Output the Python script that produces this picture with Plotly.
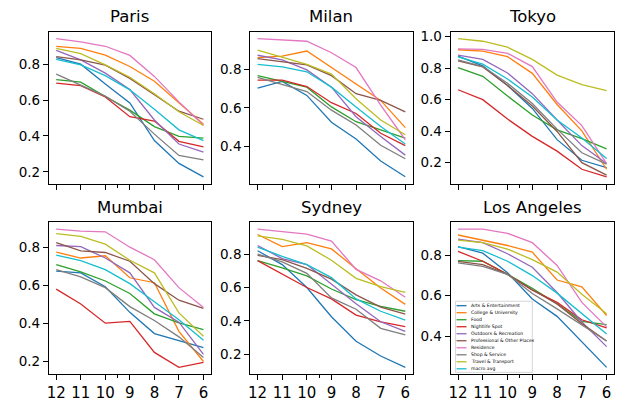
import plotly.graph_objects as go

months = [12, 11, 10, 9, 8, 7, 6]
tick_labels = ["12", "11", "10", "9", "8", "7", "6"]
categories = ["Arts & Entertainment", "College & University", "Food", "Nightlife Spot",
              "Outdoors & Recreation", "Professional & Other Places", "Residence",
              "Shop & Service", "Travel & Transport", "macro avg"]
colors = ["#1f77b4", "#ff7f0e", "#2ca02c", "#d62728", "#9467bd",
          "#8c564b", "#e377c2", "#7f7f7f", "#bcbd22", "#17becf"]
cities = ["Paris", "Milan", "Tokyo", "Mumbai", "Sydney", "Los Angeles"]

paris_values = [
    [0.837, 0.800, 0.690, 0.584, 0.374, 0.247, 0.172],
    [0.899, 0.888, 0.851, 0.787, 0.705, 0.586, 0.465],
    [0.714, 0.700, 0.620, 0.544, 0.452, 0.397, 0.388],
    [0.694, 0.681, 0.617, 0.507, 0.483, 0.370, 0.339],
    [0.877, 0.824, 0.750, 0.659, 0.489, 0.355, 0.310],
    [0.842, 0.824, 0.795, 0.721, 0.630, 0.538, 0.493],
    [0.943, 0.924, 0.900, 0.849, 0.732, 0.590, 0.460],
    [0.745, 0.685, 0.622, 0.538, 0.410, 0.291, 0.266],
    [0.888, 0.859, 0.796, 0.727, 0.635, 0.535, 0.458],
    [0.827, 0.796, 0.736, 0.657, 0.549, 0.434, 0.374],
]
milan_values = [
    [0.703, 0.738, 0.665, 0.525, 0.438, 0.323, 0.241],
    [0.862, 0.870, 0.896, 0.810, 0.725, 0.639, 0.497],
    [0.768, 0.737, 0.708, 0.605, 0.528, 0.485, 0.443],
    [0.745, 0.745, 0.711, 0.627, 0.571, 0.468, 0.403],
    [0.874, 0.850, 0.798, 0.708, 0.554, 0.451, 0.354],
    [0.856, 0.839, 0.824, 0.768, 0.674, 0.639, 0.579],
    [0.961, 0.954, 0.947, 0.887, 0.810, 0.614, 0.434],
    [0.759, 0.720, 0.685, 0.588, 0.511, 0.405, 0.335],
    [0.901, 0.862, 0.827, 0.776, 0.648, 0.537, 0.460],
    [0.827, 0.814, 0.788, 0.708, 0.605, 0.503, 0.412],
]
tokyo_values = [
    [0.877, 0.815, 0.690, 0.544, 0.346, 0.215, 0.169],
    [0.917, 0.908, 0.873, 0.767, 0.569, 0.402, 0.158],
    [0.804, 0.748, 0.623, 0.502, 0.408, 0.352, 0.288],
    [0.663, 0.600, 0.477, 0.367, 0.273, 0.158, 0.110],
    [0.883, 0.856, 0.769, 0.638, 0.471, 0.308, 0.194],
    [0.846, 0.808, 0.690, 0.560, 0.398, 0.200, 0.121],
    [0.923, 0.919, 0.894, 0.810, 0.585, 0.435, 0.194],
    [0.852, 0.810, 0.704, 0.575, 0.413, 0.263, 0.190],
    [0.988, 0.971, 0.933, 0.856, 0.756, 0.696, 0.658],
    [0.871, 0.825, 0.731, 0.617, 0.471, 0.356, 0.227],
]
mumbai_values = [
    [0.674, 0.665, 0.592, 0.457, 0.345, 0.310, 0.271],
    [0.774, 0.743, 0.755, 0.639, 0.613, 0.357, 0.198],
    [0.708, 0.670, 0.622, 0.556, 0.449, 0.402, 0.366],
    [0.579, 0.501, 0.400, 0.409, 0.246, 0.167, 0.194],
    [0.809, 0.803, 0.743, 0.665, 0.483, 0.405, 0.236],
    [0.824, 0.781, 0.772, 0.726, 0.608, 0.521, 0.478],
    [0.895, 0.885, 0.881, 0.800, 0.734, 0.587, 0.483],
    [0.682, 0.644, 0.587, 0.487, 0.414, 0.328, 0.219],
    [0.871, 0.857, 0.816, 0.731, 0.665, 0.454, 0.331],
    [0.758, 0.729, 0.682, 0.608, 0.513, 0.418, 0.310],
]
sydney_values = [
    [0.820, 0.737, 0.600, 0.425, 0.278, 0.190, 0.122],
    [0.917, 0.845, 0.868, 0.831, 0.712, 0.597, 0.499],
    [0.761, 0.718, 0.669, 0.591, 0.528, 0.487, 0.458],
    [0.761, 0.679, 0.600, 0.532, 0.435, 0.395, 0.366],
    [0.851, 0.773, 0.737, 0.620, 0.503, 0.395, 0.337],
    [0.792, 0.767, 0.714, 0.650, 0.556, 0.483, 0.440],
    [0.949, 0.933, 0.919, 0.878, 0.708, 0.640, 0.542],
    [0.800, 0.753, 0.685, 0.538, 0.470, 0.356, 0.317],
    [0.909, 0.888, 0.849, 0.763, 0.655, 0.605, 0.571],
    [0.841, 0.786, 0.737, 0.659, 0.532, 0.458, 0.405],
]
la_values = [
    [0.844, 0.811, 0.714, 0.584, 0.498, 0.372, 0.245],
    [0.901, 0.876, 0.849, 0.816, 0.678, 0.644, 0.502],
    [0.774, 0.771, 0.706, 0.637, 0.559, 0.473, 0.457],
    [0.820, 0.771, 0.706, 0.628, 0.567, 0.481, 0.441],
    [0.881, 0.863, 0.808, 0.741, 0.616, 0.470, 0.348],
    [0.770, 0.754, 0.706, 0.630, 0.559, 0.462, 0.376],
    [0.930, 0.930, 0.909, 0.863, 0.750, 0.567, 0.446],
    [0.763, 0.746, 0.706, 0.611, 0.535, 0.454, 0.376],
    [0.876, 0.863, 0.831, 0.779, 0.717, 0.608, 0.511],
    [0.841, 0.824, 0.771, 0.700, 0.613, 0.510, 0.410],
]
city_values = [paris_values, milan_values, tokyo_values,
               mumbai_values, sydney_values, la_values]

W, H = 630, 402
FONT = "DejaVu Sans"

def px_x(x):
    return x / W

def px_y(y):
    return 1 - y / H

col_px = [(47, 209.5), (249, 412), (450, 614)]
row_px = [(29, 183), (222, 376)]

fig = go.Figure()
layout = dict(
    width=W, height=H,
    margin=dict(l=0, r=0, t=0, b=0),
    paper_bgcolor="white", plot_bgcolor="white",
    showlegend=False,
    font=dict(family=FONT, color="black"),
)
annotations = []
shapes = []

for i, (city, vals) in enumerate(zip(cities, city_values)):
    r, c = divmod(i, 3)
    idx = i + 1
    xa = "x" if idx == 1 else f"x{idx}"
    ya = "y" if idx == 1 else f"y{idx}"
    for cat, col, v in zip(categories, colors, vals):
        fig.add_trace(go.Scatter(x=months, y=v, mode="lines", name=cat,
                                 line=dict(color=col, width=1.3),
                                 xaxis=xa, yaxis=ya, showlegend=False))
    flat = [a for row in vals for a in row]
    lo, hi = min(flat), max(flat)
    span = hi - lo
    yr = [lo - 0.05 * span, hi + 0.05 * span]
    x0, x1 = col_px[c]
    y0, y1 = row_px[r]
    xkey = "xaxis" if idx == 1 else f"xaxis{idx}"
    ykey = "yaxis" if idx == 1 else f"yaxis{idx}"
    layout[xkey] = dict(
        domain=[px_x(x0), px_x(x1)], anchor=ya,
        range=[12.3, 5.7], tickmode="array", tickvals=months, ticktext=tick_labels,
        showticklabels=(r == 1), tickfont=dict(size=15, family=FONT, color="black"),
        ticks="outside", ticklen=5, tickwidth=1, tickcolor="black",
        minor=dict(tickmode="array", tickvals=[9.5], ticks="outside", ticklen=3,
                   tickwidth=0.8, tickcolor="black"),
        showline=True, linecolor="black", linewidth=1, mirror=True,
        showgrid=False, zeroline=False,
    )
    layout[ykey] = dict(
        domain=[px_y(y1), px_y(y0)], anchor=xa,
        range=yr, tickmode="linear", tick0=0, dtick=0.2, tickformat=".1f",
        tickfont=dict(size=13.5, family=FONT, color="black"),
        ticks="outside", ticklen=5, tickwidth=1, tickcolor="black",
        showline=True, linecolor="black", linewidth=1, mirror=True,
        showgrid=False, zeroline=False,
    )
    annotations.append(dict(
        text=city, xref="paper", yref="paper",
        x=px_x((x0 + x1) / 2), y=px_y(y0 - 15), xanchor="center", yanchor="middle",
        showarrow=False, font=dict(size=16.5, family=FONT, color="black"),
    ))

# legend drawn in the Los Angeles panel
lx0, lx1, ly0, ly1 = 455, 532, 302, 374
shapes.append(dict(type="rect", xref="paper", yref="paper",
                   x0=px_x(lx0), x1=px_x(lx1), y0=px_y(ly1), y1=px_y(ly0),
                   line=dict(color="#cccccc", width=0.8), fillcolor="rgba(255,255,255,0.85)",
                   layer="above"))
for k, (cat, col) in enumerate(zip(categories, colors)):
    yy = 306.5 + k * 7.1
    shapes.append(dict(type="line", xref="paper", yref="paper",
                       x0=px_x(456), x1=px_x(466), y0=px_y(yy), y1=px_y(yy),
                       line=dict(color=col, width=1.3), layer="above"))
    annotations.append(dict(
        text=cat, xref="paper", yref="paper", x=px_x(468), y=px_y(yy),
        xanchor="left", yanchor="middle", showarrow=False,
        font=dict(size=4.6, family=FONT, color="black"),
    ))

layout["annotations"] = annotations
layout["shapes"] = shapes
fig.update_layout(**layout)
fig.write_html("out.html", config=dict(displayModeBar=False),
               post_script="document.body.style.margin='0';document.body.style.overflow='hidden';")
